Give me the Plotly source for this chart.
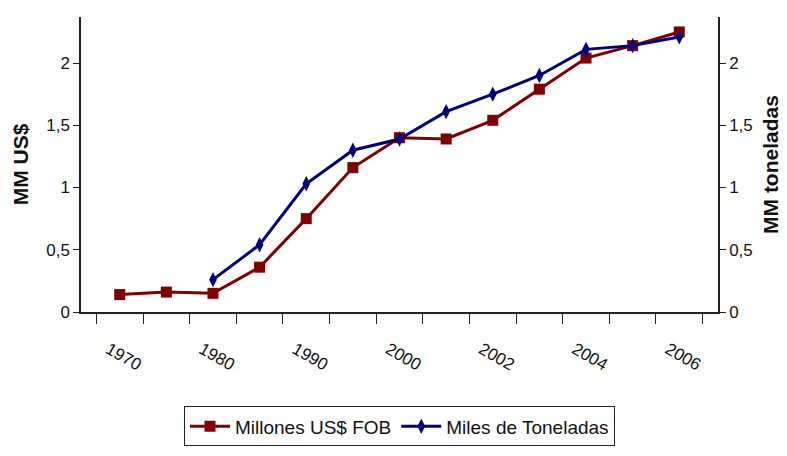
import plotly.graph_objects as go

years = ["1970", "1975", "1980", "1985", "1990", "1995", "2000", "2001", "2002", "2003", "2004", "2005", "2006"]
tick_labels = ["1970", "1980", "1990", "2000", "2002", "2004", "2006"]
millones_fob = [0.14, 0.16, 0.15, 0.36, 0.75, 1.16, 1.40, 1.39, 1.54, 1.79, 2.04, 2.14, 2.25]
miles_ton = [None, None, 0.26, 0.54, 1.03, 1.30, 1.39, 1.61, 1.75, 1.90, 2.11, 2.14, 2.21]

shown_text = [("<br>" + y) if y in tick_labels else "" for y in years]

sans = "Liberation Sans, Arial, sans-serif"

fig = go.Figure()
fig.add_trace(go.Scatter(
    x=years, y=millones_fob, name="Millones US$ FOB", mode="lines+markers",
    line=dict(color="#800000", width=3),
    marker=dict(symbol="square", size=11, color="#800000"),
    yaxis="y"))
fig.add_trace(go.Scatter(
    x=years, y=miles_ton, name="Miles de Toneladas", mode="lines+markers",
    line=dict(color="#000080", width=3),
    marker=dict(symbol="diamond-tall", size=11, color="#000080"),
    yaxis="y2", connectgaps=False))

axis_color = "#222222"
tickfont = dict(family=sans, size=17, color="#111111")
fig.update_layout(
    width=779, height=448,
    margin=dict(l=73, r=69, t=9, b=144),
    paper_bgcolor="white", plot_bgcolor="white",
    separators=",.",
    showlegend=True,
    legend=dict(orientation="h", x=0.5, xanchor="center", y=-0.32, yanchor="top",
                bordercolor="#222222", borderwidth=1,
                font=dict(family=sans, size=19, color="#111111"),
                itemwidth=40, tracegroupgap=0),
    xaxis=dict(type="category", categoryorder="array", categoryarray=years,
               tickmode="array", tickvals=years, ticktext=shown_text,
               ticks="outside", tickson="boundaries", ticklen=10,
               tickcolor=axis_color, tickwidth=1.2,
               showgrid=False, zeroline=False,
               showline=True, linecolor=axis_color, linewidth=1.5, automargin=False,
               tickfont=tickfont),
    yaxis=dict(range=[0, 2.37], tickmode="array", tickvals=[0, 0.5, 1, 1.5, 2],
               ticks="outside", ticklen=6, tickcolor=axis_color, tickwidth=1.2,
               showgrid=False, zeroline=False, showline=True, linecolor=axis_color, linewidth=1.5,
               automargin=False, tickfont=tickfont,
               title=dict(text="<b>MM US$</b>", font=dict(family=sans, size=21, color="#111111"), standoff=12)),
    yaxis2=dict(range=[0, 2.37], tickmode="array", tickvals=[0, 0.5, 1, 1.5, 2],
                overlaying="y", side="right",
                ticks="outside", ticklen=6, tickcolor=axis_color, tickwidth=1.2,
                showgrid=False, zeroline=False, showline=True, linecolor=axis_color, linewidth=1.5,
                automargin=False, tickfont=tickfont,
                title=dict(text="<b>MM toneladas</b>", font=dict(family=sans, size=21, color="#111111"), standoff=12)),
)

fig.write_html("out.html")
